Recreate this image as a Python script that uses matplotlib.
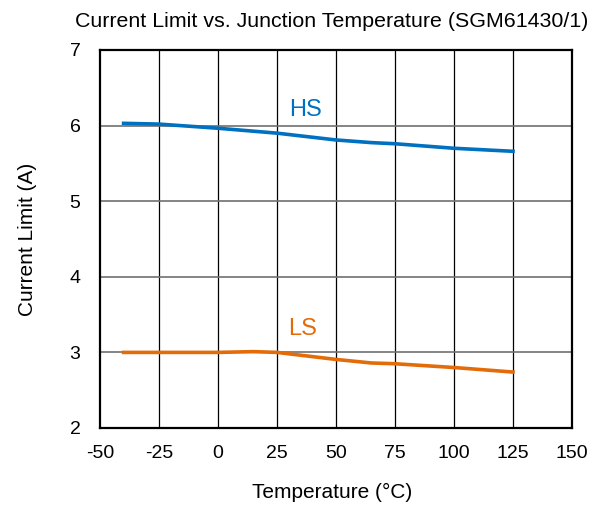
import matplotlib
matplotlib.use("Agg")
from matplotlib import pyplot as plt

plt.rcParams['font.family'] = ['Liberation Sans', 'DejaVu Sans']
plt.rcParams['axes.unicode_minus'] = False

# dados
temp_hs = [-40, -25, 0, 25, 50, 65, 75, 100, 125]
hs = [6.03, 6.02, 5.965, 5.90, 5.81, 5.775, 5.76, 5.70, 5.66]
temp_ls = [-40, -25, 0, 15, 25, 50, 65, 75, 100, 125]
ls = [3.0, 3.0, 3.0, 3.01, 3.0, 2.907, 2.86, 2.85, 2.80, 2.74]

xticks = [-50, -25, 0, 25, 50, 75, 100, 125, 150]
yticks = [2, 3, 4, 5, 6, 7]

fig = plt.figure(figsize=(6, 5.09), dpi=100)
ax = fig.add_axes([100/600, 1-428/509, 472/600, 378/509])

for x in xticks[1:-1]:
    ax.axvline(x, color='black', lw=0.9, zorder=1)
for y in yticks[1:-1]:
    ax.axhline(y, color='#707070', lw=1.2, zorder=1)

ax.plot(temp_hs, hs, color='#0070C0', lw=2.6, zorder=3)
ax.plot(temp_ls, ls, color='#E36C09', lw=2.6, zorder=3)

ax.text(37, 6.2, 'HS', color='#0070C0', fontsize=17, ha='center', va='center')
ax.text(36, 3.31, 'LS', color='#E36C09', fontsize=17, ha='center', va='center')

ax.set_xlim(-50, 150)
ax.set_ylim(2, 7)
ax.set_xticks(xticks)
ax.set_yticks(yticks)
ax.tick_params(length=0, labelsize=14)
ax.tick_params(axis='x', pad=12)
ax.tick_params(axis='y', pad=14)
for s in ax.spines.values():
    s.set_linewidth(1.6)

ax.set_xlabel('Temperature (°C)', fontsize=15, va='center')
ax.xaxis.set_label_coords((332-100)/472, (428-492)/378)
ax.set_ylabel('Current Limit (A)', fontsize=15, va='center')
ax.yaxis.set_label_coords((28-100)/472, 0.5)
fig.text(332/600, 1-27/509, 'Current Limit vs. Junction Temperature (SGM61430/1)',
         fontsize=15.4, ha='center', va='baseline')

plt.savefig('out.png', dpi=100)
